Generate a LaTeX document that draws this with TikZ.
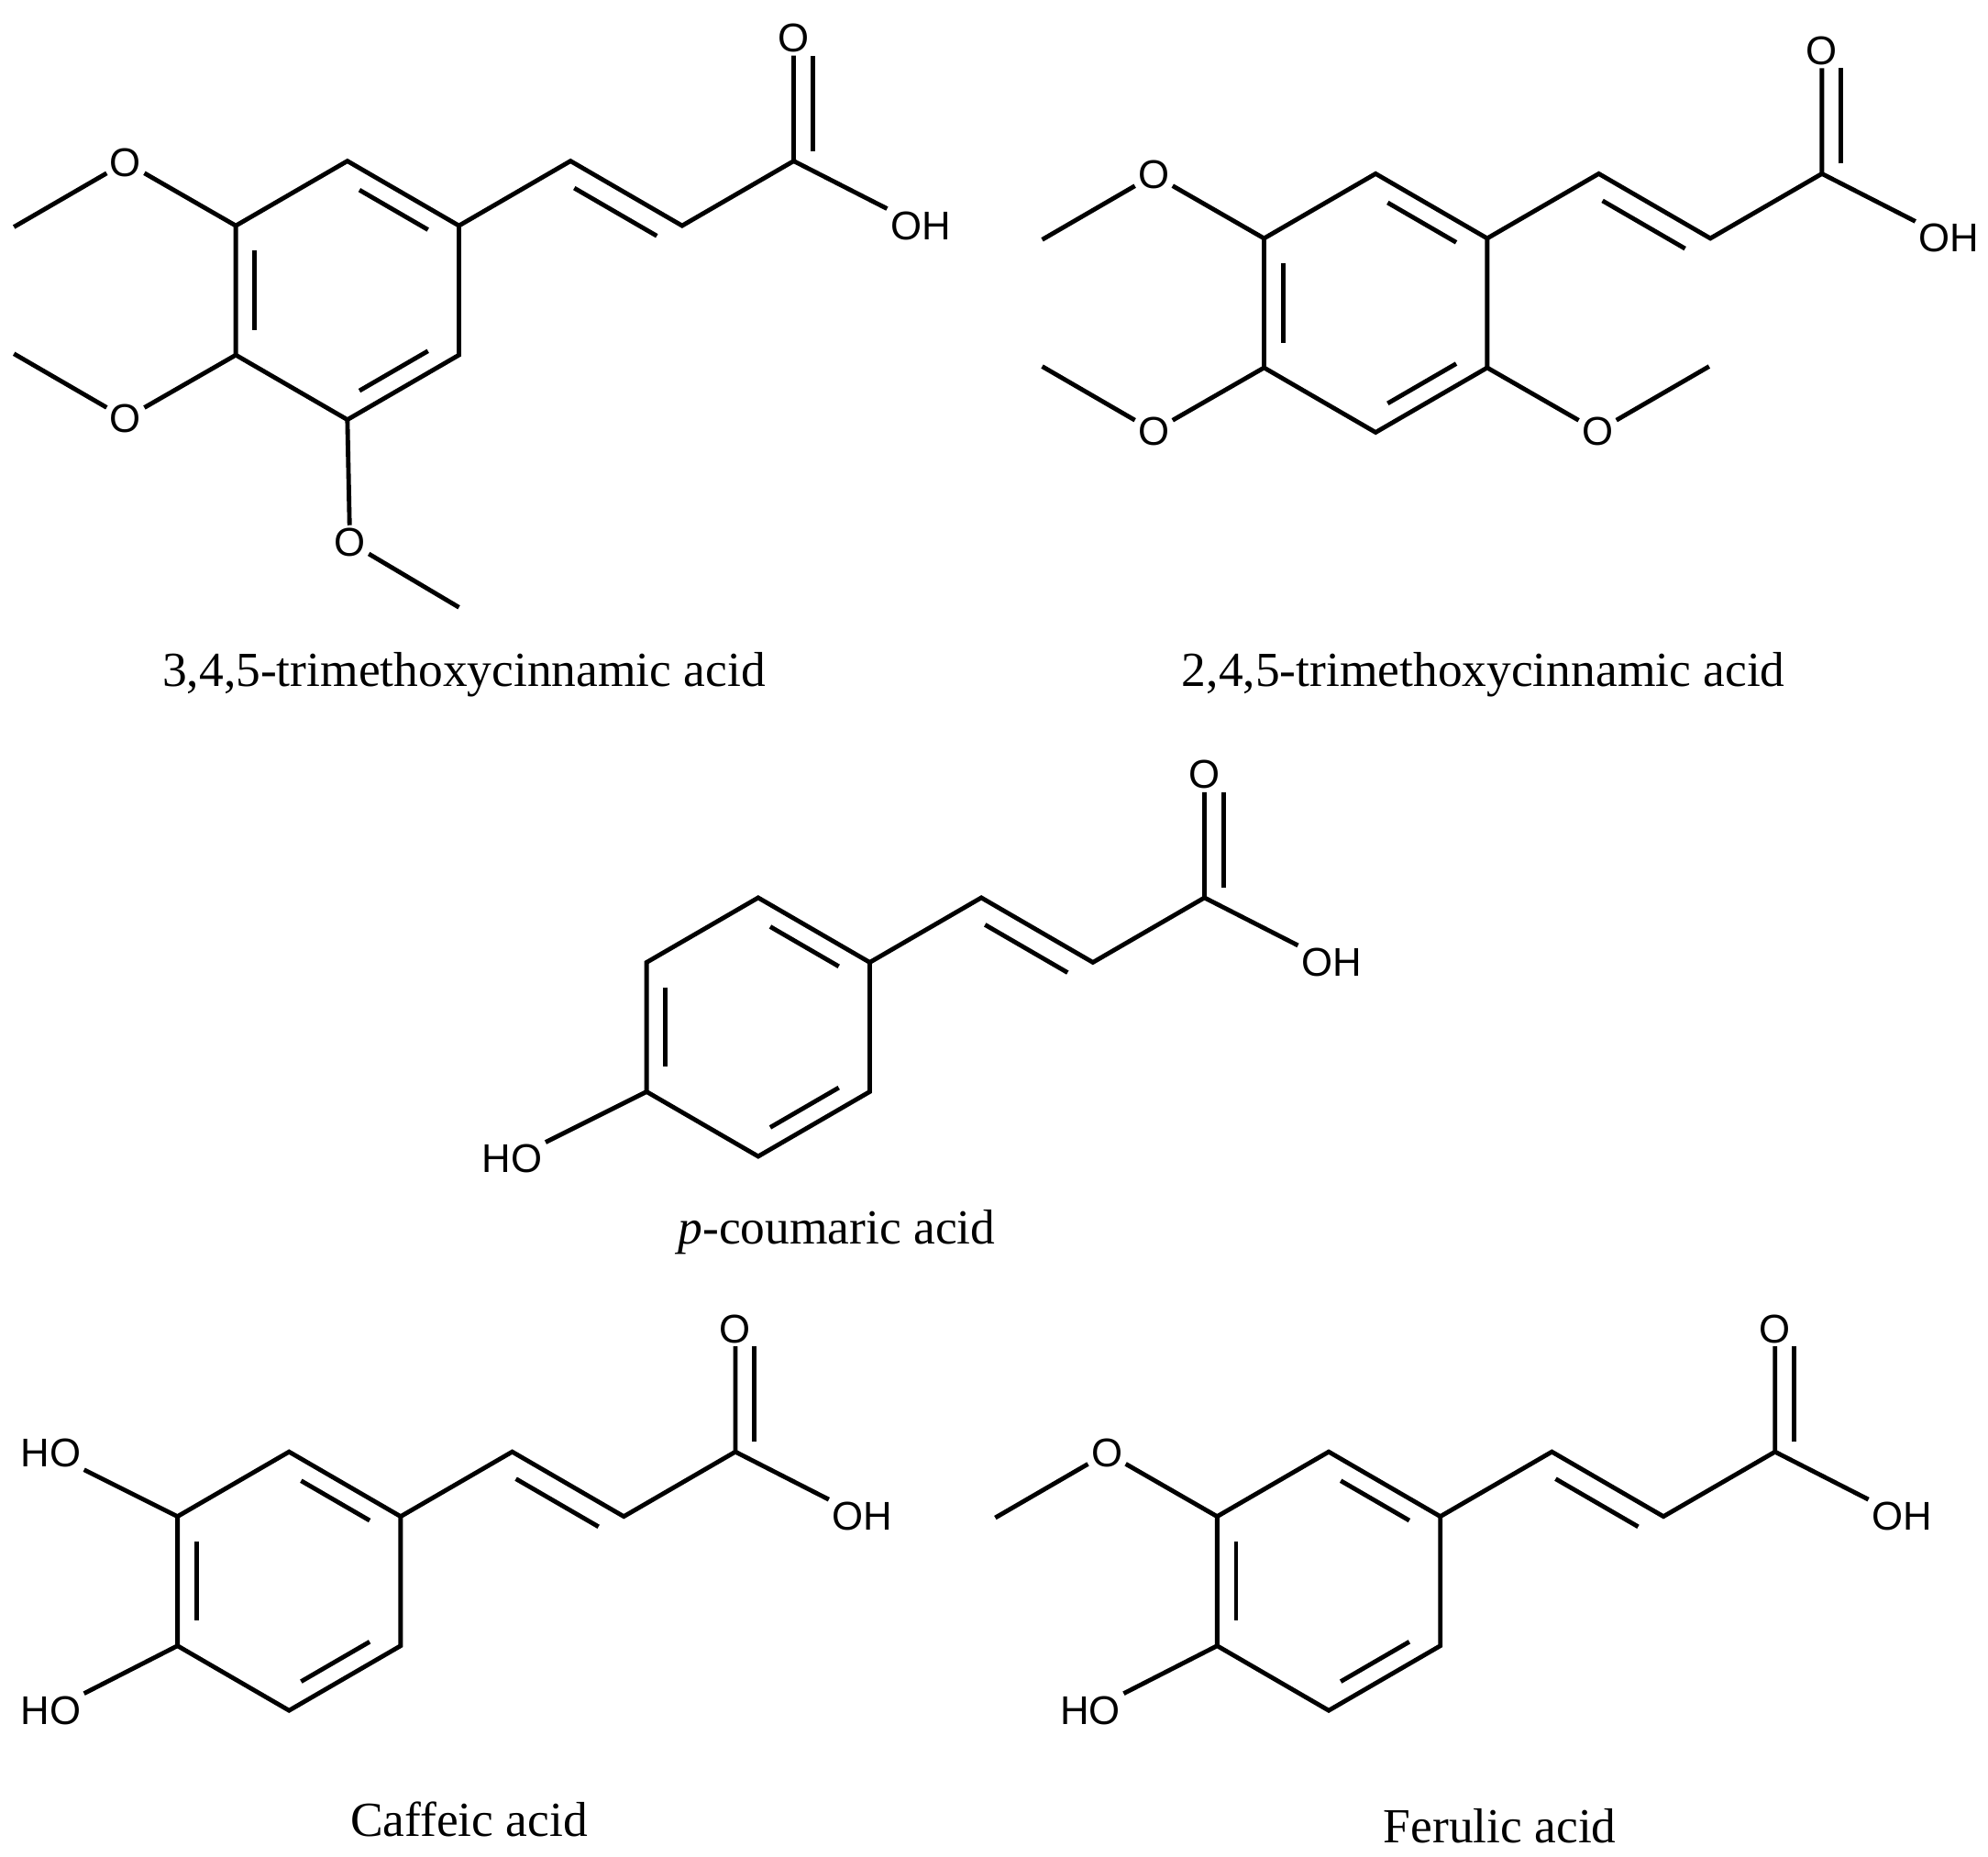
\documentclass[tikz,border=0pt]{standalone}
\usepackage{fontspec}
\setmainfont{Liberation Serif}
\setsansfont{Liberation Sans}
\usetikzlibrary{calc}
\tikzset{
 bond/.style={line width=3pt,line join=miter},
 atom/.style={font=\sffamily\fontsize{27}{30}\selectfont,inner sep=2pt},
 lab/.style={font=\fontsize{33}{40}\selectfont,inner sep=0pt}
}
\newcommand\indbl[3]{% inner double bond of ring edge #1-#2, center #3
 \draw[bond] ($($(#1)!0.17!(#3)$)!0.13!($(#2)!0.17!(#3)$)$) -- ($($(#2)!0.17!(#3)$)!0.13!($(#1)!0.17!(#3)$)$);}
\newcommand\mol[3]{%
 \coordinate (#1c) at (#2,#3);
 \coordinate (#1t) at (#2,#3-102);
 \coordinate (#1ur) at (#2+88,#3-51);
 \coordinate (#1lr) at (#2+88,#3+51);
 \coordinate (#1b) at (#2,#3+102);
 \coordinate (#1ll) at (#2-88,#3+51);
 \coordinate (#1ul) at (#2-88,#3-51);
 \draw[bond] (#1t)--(#1ur)--(#1lr)--(#1b)--(#1ll)--(#1ul)--cycle;
 \indbl{#1t}{#1ur}{#1c}\indbl{#1ul}{#1ll}{#1c}\indbl{#1b}{#1lr}{#1c}
 \coordinate (#1v1) at ($(#1ur)+(88,-51)$);
 \coordinate (#1v2) at ($(#1v1)+(88,51)$);
 \coordinate (#1cc) at ($(#1v2)+(88,-51)$);
 \node[atom] (#1o) at ($(#1cc)+(0,-97)$) {O};
 \node[atom] (#1oh) at ($(#1cc)+(100,51)$) {OH};
 \draw[bond] (#1ur)--(#1v1)--(#1v2)--(#1cc)--(#1o);
 \draw[bond] (#1cc)--(#1oh);
 \draw[bond] ($($(#1v1)+(-8.5,14.7)$)!0.13!($(#1v2)+(-8.5,14.7)$)$)--($($(#1v2)+(-8.5,14.7)$)!0.13!($(#1v1)+(-8.5,14.7)$)$);
 \draw[bond] ($(#1cc)+(15,-8)$)--($(#1o.south)+(15,0)$);
}
\begin{document}
\begin{tikzpicture}[x=0.03cm,y=-0.03cm]
\useasboundingbox (0,0) rectangle (1568,1464);
% 3,4,5
\mol{a}{274}{229}
\node[atom] (ao1) at ($(aul)+(-87,-50)$) {O};
\coordinate (am1) at ($(ao1)+(-88,51)$);
\draw[bond] (aul)--(ao1)--(am1);
\node[atom] (ao2) at ($(all)+(-87,50)$) {O};
\coordinate (am2) at ($(ao2)+(-88,-51)$);
\draw[bond] (all)--(ao2)--(am2);
\node[atom] (ao3) at ($(ab)+(2,97)$) {O};
\coordinate (am3) at ($(ao3)+(86,51)$);
\draw[bond] (ab)--(ao3)--(am3);
\node[lab] (la) at (366,532) {3,4,5-trimethoxycinnamic acid};
% 2,4,5
\mol{b}{1085}{239}
\node[atom] (bo1) at ($(bul)+(-87,-50)$) {O};
\coordinate (bm1) at ($(bo1)+(-88,51)$);
\draw[bond] (bul)--(bo1)--(bm1);
\node[atom] (bo2) at ($(bll)+(-87,50)$) {O};
\coordinate (bm2) at ($(bo2)+(-88,-51)$);
\draw[bond] (bll)--(bo2)--(bm2);
\node[atom] (bo3) at ($(blr)+(87,50)$) {O};
\coordinate (bm3) at ($(bo3)+(88,-51)$);
\draw[bond] (blr)--(bo3)--(bm3);
\node[lab] (lb) at (1170,532) {2,4,5-trimethoxycinnamic acid};
% p-coumaric
\mol{c}{598}{810}
\node[atom] (cho) at ($(cll)+(-106,53)$) {HO};
\draw[bond] (cll)--(cho);
\node[lab] (lc) at (660,972) {\textit{p}-coumaric acid};
% caffeic
\mol{d}{228}{1247}
\node[atom] (dho1) at ($(dul)+(-100,-50)$) {HO};
\draw[bond] (dul)--(dho1);
\node[atom] (dho2) at ($(dll)+(-100,51)$) {HO};
\draw[bond] (dll)--(dho2);
\node[lab] (ld) at (370,1435) {Caffeic acid};
% ferulic
\mol{e}{1048}{1247}
\node[atom] (eo1) at ($(eul)+(-87,-50)$) {O};
\coordinate (em1) at ($(eo1)+(-88,51)$);
\draw[bond] (eul)--(eo1)--(em1);
\node[atom] (eho) at ($(ell)+(-100,51)$) {HO};
\draw[bond] (ell)--(eho);
\node[lab] (le) at (1183,1440) {Ferulic acid};
\end{tikzpicture}
\end{document}
